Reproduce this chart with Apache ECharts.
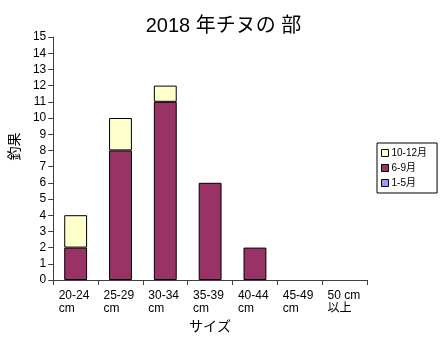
<!DOCTYPE html>
<html>
<head>
<meta charset="utf-8">
<script src="https://cdn.jsdelivr.net/npm/echarts@6/dist/echarts.min.js"></script>
<style>
  html, body { margin: 0; padding: 0; background: #fff; }
  #chart { width: 447px; height: 344px; }
</style>
</head>
<body>
<div id="chart"></div>
<script>
// Size classes (two-line labels) and monthly catch counts
const sizeClasses = ['20-24\ncm', '25-29\ncm', '30-34\ncm', '35-39\ncm', '40-44\ncm', '45-49\ncm', '50 cm\n以上'];
const catchJanMay = [0, 0, 0, 0, 0, 0, 0];
const catchJunSep = [2, 8, 11, 6, 2, 0, 0];
const catchOctDec = [2, 2, 1, 0, 0, 0, 0];
const yTicks = { min: 0, max: 15, interval: 1 };

const FONT = 'Liberation Sans, "Noto Sans CJK JP", sans-serif';
const AXIS_COLOR = '#404040';

const chart = echarts.init(document.getElementById('chart'));

// Empty segments are left out so no zero-height outline is drawn
function barSeries(name, data, color) {
  return {
    name: name,
    type: 'bar',
    stack: 'catch',
    data: data.map(function (v) { return v === 0 ? null : v; }),
    barWidth: '51%',
    itemStyle: { color: color, borderColor: '#000', borderWidth: 1 },
    emphasis: { disabled: true }
  };
}

chart.setOption({
  animation: false,
  title: {
    text: '2018 年チヌの 部',
    left: 'center',
    top: 11,
    textStyle: { fontFamily: FONT, fontSize: 20, fontWeight: 'normal', color: '#000' }
  },
  legend: {
    orient: 'vertical',
    left: 377,
    top: 143,
    padding: [5, 10, 5, 4],
    itemGap: 5,
    itemWidth: 7,
    itemHeight: 7,
    borderColor: '#000',
    borderWidth: 1,
    icon: 'rect',
    data: ['10-12月', '6-9月', '1-5月'],
    itemStyle: { borderColor: '#000', borderWidth: 1 },
    textStyle: { fontFamily: FONT, fontSize: 10, color: '#000', padding: [0, 0, 0, -2] }
  },
  grid: { left: 53, right: 80, top: 37, bottom: 64 },
  xAxis: {
    type: 'category',
    data: sizeClasses,
    boundaryGap: true,
    name: 'サイズ',
    nameLocation: 'middle',
    nameGap: 40,
    nameTextStyle: { fontFamily: FONT, fontSize: 14, color: '#000' },
    axisLine: { lineStyle: { color: AXIS_COLOR, width: 1 } },
    axisTick: { show: true, length: 5, alignWithLabel: false, lineStyle: { color: AXIS_COLOR } },
    axisLabel: {
      interval: 0,
      margin: 9,
      color: '#000',
      fontFamily: FONT,
      fontSize: 12,
      lineHeight: 13,
      formatter: function (v) {
        return v.split('\n').map(function (s) { return '{a|' + s + '}'; }).join('\n');
      },
      rich: { a: { width: 34, align: 'left', fontFamily: FONT, fontSize: 12, lineHeight: 13, color: '#000' } }
    }
  },
  yAxis: {
    type: 'value',
    min: yTicks.min,
    max: yTicks.max,
    interval: yTicks.interval,
    name: '釣果',
    nameLocation: 'middle',
    nameGap: 28,
    nameTextStyle: { fontFamily: FONT, fontSize: 14, color: '#000', padding: [0, 0, 0, 24] },
    axisLine: { show: true, lineStyle: { color: AXIS_COLOR, width: 1 } },
    axisTick: { show: true, length: 5, lineStyle: { color: AXIS_COLOR } },
    axisLabel: { margin: 7, color: '#000', fontFamily: FONT, fontSize: 12 },
    splitLine: { show: false }
  },
  series: [
    barSeries('1-5月', catchJanMay, '#9999FF'),
    barSeries('6-9月', catchJunSep, '#993366'),
    barSeries('10-12月', catchOctDec, '#FFFFCC')
  ]
});
</script>
</body>
</html>
